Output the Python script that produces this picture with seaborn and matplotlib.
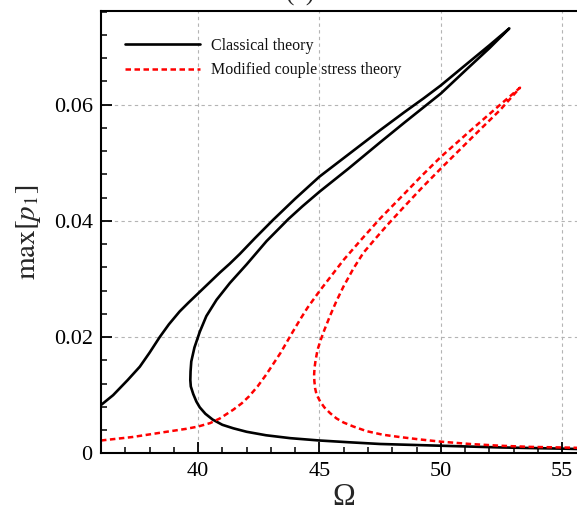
import matplotlib
matplotlib.use("Agg")
import matplotlib.pyplot as plt
from matplotlib.ticker import MultipleLocator
import seaborn as sns
import pandas as pd

# Classical theory: upper branch -> back along middle branch -> lower branch
classical_omega = [36.0, 36.5, 37.1, 37.6, 38.0, 38.42, 38.8, 39.24, 39.6, 40.0,
                   40.45, 40.9, 41.3, 41.72, 42.34, 43.1, 44.0, 45.0, 46.0, 47.0,
                   47.5, 48.5, 49.3, 50.0, 51.07, 52.0, 52.82,
                   52.0, 51.07, 50.0, 48.5, 47.5, 46.2, 45.0, 44.3, 43.72, 42.82,
                   42.0, 41.31, 40.76, 40.34, 40.07, 39.85, 39.72, 39.69, 39.68,
                   39.7, 39.8, 39.93, 40.07, 40.3, 40.6, 41.0, 41.45, 42.0, 42.8,
                   43.8, 45.0, 46.2, 47.5, 50.0, 52.5, 55.0, 56.0]
classical_amp = [0.0083, 0.0100, 0.0126, 0.0149, 0.0173, 0.0200, 0.0222, 0.0244, 0.0259, 0.0275,
                 0.0293, 0.0311, 0.0326, 0.0343, 0.0370, 0.0402, 0.0438, 0.0476, 0.0508, 0.0540,
                 0.0556, 0.0587, 0.0611, 0.0633, 0.0670, 0.0702, 0.0731,
                 0.0697, 0.0661, 0.0619, 0.0569, 0.0535, 0.0490, 0.0450, 0.0425, 0.0403, 0.0365,
                 0.0325, 0.0293, 0.0264, 0.0236, 0.0209, 0.0182, 0.0158, 0.0141, 0.0126,
                 0.0115, 0.0102, 0.0089, 0.0079, 0.0068, 0.0058, 0.0049, 0.0043, 0.0037, 0.0031,
                 0.0026, 0.0022, 0.0019, 0.0016, 0.0013, 0.0010, 0.0008, 0.0007]

# Modified couple stress theory
mcst_omega = [36.0, 37.3, 38.7, 39.5, 40.0, 40.5, 40.9, 41.45, 41.8, 42.1,
              42.45, 42.8, 43.1, 43.4, 43.65, 43.9, 44.2, 44.5, 45.0, 45.5,
              46.0, 46.75, 47.5, 48.46, 49.2, 50.0, 51.35, 52.45, 53.26,
              52.45, 51.35, 50.0, 49.2, 48.46, 47.8, 47.36, 46.81, 46.4, 45.99,
              45.7, 45.44, 45.2, 45.05, 44.92, 44.84, 44.8, 44.78, 44.79, 44.82,
              44.88, 45.03, 45.2, 45.44, 45.7, 45.99, 46.4, 46.95, 47.6, 48.3,
              49.1, 50.0, 51.2, 52.45, 53.7, 55.0, 56.0]
mcst_amp = [0.0022, 0.0028, 0.0037, 0.0042, 0.0046, 0.0052, 0.0060, 0.0075, 0.0086, 0.0098,
            0.0115, 0.0135, 0.0154, 0.0173, 0.0191, 0.0209, 0.0230, 0.0250, 0.0279, 0.0306,
            0.0333, 0.0369, 0.0404, 0.0445, 0.0477, 0.0510, 0.0560, 0.0600, 0.0629,
            0.0591, 0.0546, 0.0490, 0.0456, 0.0423, 0.0393, 0.0372, 0.0345, 0.0318, 0.0287,
            0.0262, 0.0237, 0.0212, 0.0195, 0.0178, 0.0160, 0.0148, 0.0136, 0.0124, 0.0112,
            0.0101, 0.0089, 0.0079, 0.0069, 0.0060, 0.0053, 0.0046, 0.0038, 0.0032, 0.0028,
            0.0024, 0.0020, 0.0016, 0.0013, 0.0011, 0.0010, 0.0009]

x_ticks = [40, 45, 50, 55]
y_ticks = [0, 0.02, 0.04, 0.06]
y_tick_labels = ["0", "0.02", "0.04", "0.06"]
x_tick_labels = ["40", "45", "50", "55"]

sns.set_theme(style="white")
plt.rcParams["font.family"] = ["Liberation Serif", "DejaVu Serif"]
plt.rcParams["mathtext.fontset"] = "stix"

fig = plt.figure(figsize=(5.77, 5.13), dpi=100)
ax = fig.add_axes([0.175, 0.1164, 0.8415, 0.8622])

df_c = pd.DataFrame({"omega": classical_omega, "amp": classical_amp})
df_m = pd.DataFrame({"omega": mcst_omega, "amp": mcst_amp})

sns.lineplot(data=df_c, x="omega", y="amp", sort=False, estimator=None, ax=ax,
             color="black", linewidth=1.9, label="Classical theory")
sns.lineplot(data=df_m, x="omega", y="amp", sort=False, estimator=None, ax=ax,
             color="#ff0000", linewidth=1.8, dashes=False, label="Modified couple stress theory")
ax.lines[1].set_dashes((2.2, 1.4))
for ln in ax.lines:
    ln.set_solid_joinstyle("round")
    ln.set_dash_joinstyle("round")

ax.set_xlim(36, 56)
ax.set_ylim(0, 0.0761)
ax.set_xticks(x_ticks)
ax.set_xticklabels(x_tick_labels)
ax.set_yticks(y_ticks)
ax.set_yticklabels(y_tick_labels)
ax.xaxis.set_minor_locator(MultipleLocator(1))
ax.yaxis.set_minor_locator(MultipleLocator(0.004))

ax.grid(True, which="major", color="#b4b4b4", linestyle=(0, (3, 3)), linewidth=0.8)
ax.tick_params(which="both", direction="in", top=False, right=False, bottom=True, left=True,
               colors="black", labelsize=16)
ax.tick_params(which="major", length=8, width=1.3, pad=6)
ax.tick_params(which="minor", length=4.5, width=1.1)
for s in ax.spines.values():
    s.set_linewidth(1.5)
    s.set_color("black")

ax.set_xlabel("Ω", fontsize=22, labelpad=1.5)
ax.set_ylabel(r"$\mathrm{max}\left[p_1\right]$", fontsize=21, labelpad=8)

leg = ax.legend(loc="upper left", bbox_to_anchor=(0.049, 0.94), frameon=False,
                fontsize=11.5, handlelength=4.7, handletextpad=0.7, labelspacing=0.55,
                borderpad=0, borderaxespad=0)
for t in leg.get_texts():
    t.set_color("#111111")

fig.text(0.52, 0.998, "(b)", fontsize=18, ha="center", va="baseline")

fig.savefig("out.png", dpi=100)
